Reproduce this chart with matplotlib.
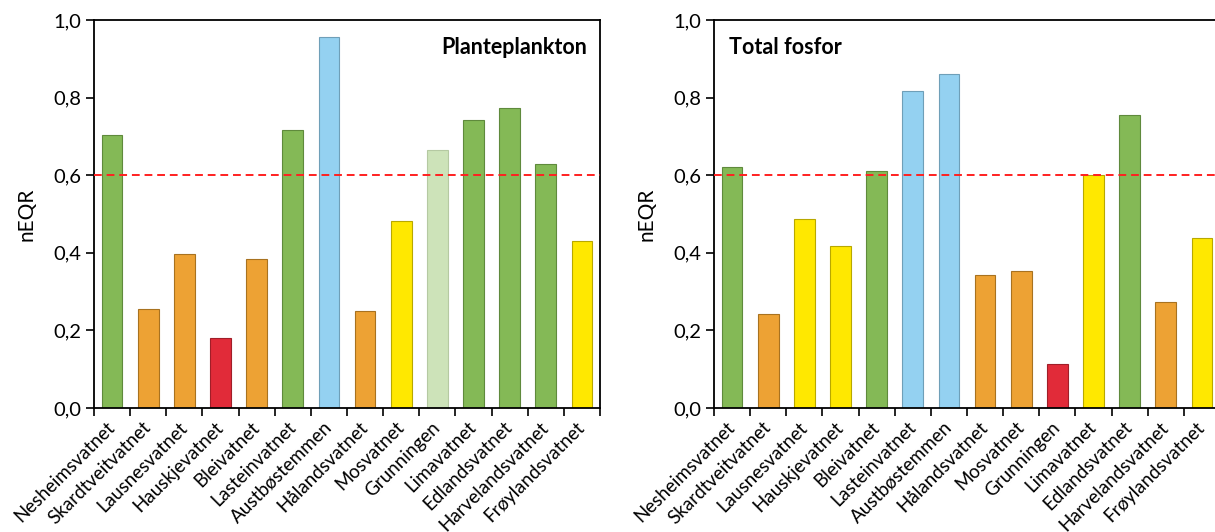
import matplotlib.pyplot as plt
import numpy as np

plt.rcParams['font.family'] = ['Lato', 'DejaVu Sans']

LAKES = ["Nesheimsvatnet", "Skardtveitvatnet", "Lausnesvatnet", "Hauskjevatnet",
         "Bleivatnet", "Lasteinvatnet", "Austbøstemmen", "Hålandsvatnet",
         "Mosvatnet", "Grunningen", "Limavatnet", "Edlandsvatnet",
         "Harvelandsvatnet", "Frøylandsvatnet"]

# nEQR-verdier
PLANKTON = [0.703, 0.255, 0.397, 0.180, 0.383, 0.717, 0.957, 0.250,
            0.483, 0.665, 0.742, 0.773, 0.628, 0.430]
FOSFOR = [0.620, 0.241, 0.487, 0.418, 0.610, 0.818, 0.862, 0.343,
          0.353, 0.113, 0.600, 0.755, 0.273, 0.437]

# tilstandsklasser
PLANKTON_KLASSE = ["G", "M", "M", "D", "M", "G", "SG", "M", "Mo", "Gl", "G", "G", "G", "Mo"]
FOSFOR_KLASSE = ["G", "M", "Mo", "Mo", "G", "SG", "SG", "M", "M", "D", "Mo", "G", "M", "Mo"]

FARGER = {"SG": "#94D1F1", "G": "#84B956", "Gl": "#CDE3B9",
          "Mo": "#FFE800", "M": "#EDA234", "D": "#E12B39"}
KANT = {"SG": "#6f9fb8", "G": "#5f8a3c", "Gl": "#b5c9a2",
        "Mo": "#b8a800", "M": "#a87220", "D": "#a01e28"}

GRENSE = 0.6

fig = plt.figure(figsize=(12.15, 5.32), dpi=100)
ax1 = fig.add_axes([94 / 1215, 1 - 408 / 532, 506 / 1215, 388 / 532])
ax2 = fig.add_axes([714 / 1215, 1 - 408 / 532, 506 / 1215, 388 / 532])


def tegn(ax, verdier, klasser, tittel, tx, ha):
    x = np.arange(len(LAKES))
    ax.bar(x, verdier, width=0.57, color=[FARGER[k] for k in klasser],
           edgecolor=[KANT[k] for k in klasser], linewidth=0.8, zorder=2)
    ax.axhline(GRENSE, color='#ff2020', linestyle=(0, (4, 2.5)), linewidth=1.4, zorder=3)
    ax.set_xlim(-0.5, len(LAKES) - 0.5)
    ax.set_ylim(0, 1.0)
    yt = np.arange(0, 1.01, 0.2)
    ax.set_yticks(yt)
    ax.set_yticklabels([f"{v:.1f}".replace('.', ',') for v in yt], fontsize=14.5)
    ax.set_xticks(np.arange(len(LAKES) + 1) - 0.5)
    ax.set_xticklabels([])
    ax.set_xticks(x, minor=True)
    ax.set_xticklabels(LAKES, minor=True, rotation=45, ha='right', va='center',
                       rotation_mode='anchor', fontsize=13.5)
    ax.tick_params(axis='x', which='minor', length=0, pad=12)
    ax.tick_params(axis='x', which='major', length=6, width=1.2, direction='out')
    ax.tick_params(axis='y', length=6, width=1.2, direction='out', pad=3)
    for s in ax.spines.values():
        s.set_linewidth(1.3)
    ax.set_ylabel("nEQR", fontsize=15, labelpad=12)
    ax.text(tx, 0.93, tittel, transform=ax.transAxes, ha=ha, va='center',
            fontsize=15.5, fontweight='bold')


tegn(ax1, PLANKTON, PLANKTON_KLASSE, "Planteplankton", 0.975, 'right')
tegn(ax2, FOSFOR, FOSFOR_KLASSE, "Total fosfor", 0.03, 'left')

fig.savefig("out.png", dpi=100)
